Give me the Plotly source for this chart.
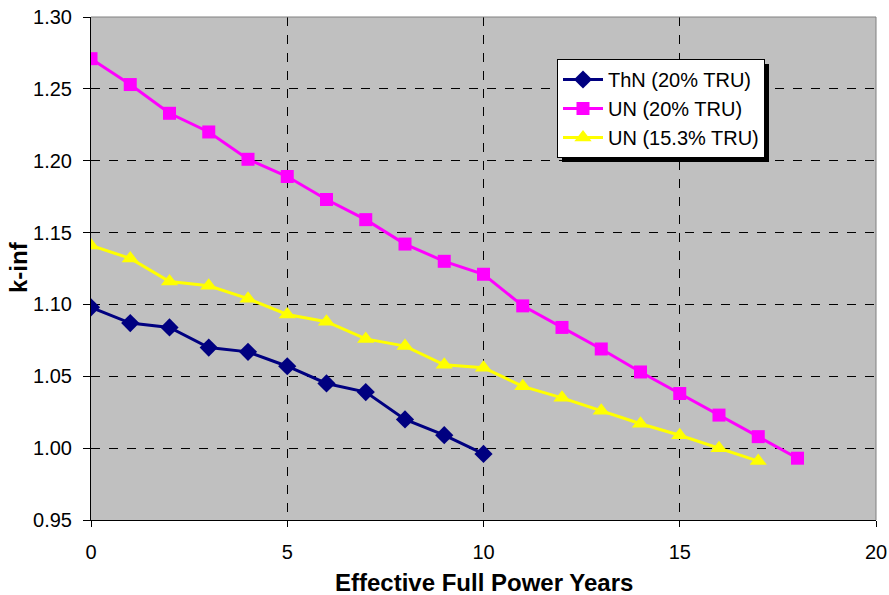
import plotly.graph_objects as go

years_thn = list(range(0, 11))
kinf_thn = [1.098, 1.087, 1.084, 1.070, 1.067, 1.057, 1.045, 1.039, 1.020, 1.009, 0.996]

years_un20 = list(range(0, 19))
kinf_un20 = [1.271, 1.253, 1.233, 1.220, 1.201, 1.189, 1.173, 1.159, 1.142, 1.130, 1.121,
             1.099, 1.084, 1.069, 1.053, 1.038, 1.023, 1.008, 0.993]

years_un153 = list(range(0, 18))
kinf_un153 = [1.141, 1.132, 1.116, 1.113, 1.104, 1.093, 1.088, 1.076, 1.071, 1.058, 1.056,
              1.043, 1.035, 1.026, 1.017, 1.009, 1.000, 0.991]

names = ["ThN (20% TRU)", "UN (20% TRU)", "UN (15.3% TRU)"]
x_title = "Effective Full Power Years"
y_title = "k-inf"

FONT = "Liberation Sans, Arial, sans-serif"

L, R, T, B = 91, 13, 17, 75
PW, PH = 889 - L - R, 595 - T - B

fig = go.Figure()
fig.add_trace(go.Scatter(x=years_thn, y=kinf_thn, name=names[0], mode="lines+markers",
                         line=dict(color="#000080", width=3),
                         marker=dict(symbol="diamond", size=14, color="#000080")))
fig.add_trace(go.Scatter(x=years_un20, y=kinf_un20, name=names[1], mode="lines+markers",
                         line=dict(color="#FF00FF", width=3),
                         marker=dict(symbol="square", size=13, color="#FF00FF")))
fig.add_trace(go.Scatter(x=years_un153, y=kinf_un153, name=names[2], mode="lines+markers",
                         line=dict(color="#FFFF00", width=3),
                         marker=dict(symbol="triangle-up", size=15, color="#FFFF00")))

# gray border on top and right of plot area
fig.add_shape(type="line", xref="paper", yref="paper", x0=0, x1=1, y0=1, y1=1,
              line=dict(color="#808080", width=1))
fig.add_shape(type="line", xref="paper", yref="paper", x0=1, x1=1, y0=0, y1=1,
              line=dict(color="#808080", width=1))

fig.add_annotation(text="<b>" + x_title + "</b>", xref="paper", yref="paper",
                   x=0.5, y=-(582 - 520) / PH, xanchor="center", yanchor="middle",
                   showarrow=False, font=dict(family=FONT, size=24, color="black"))
fig.add_annotation(text="<b>" + y_title + "</b>", xref="paper", yref="paper",
                   x=-(L - 18.5) / PW, y=(520 - 267.5) / PH, xanchor="center", yanchor="middle",
                   textangle=-90, showarrow=False, font=dict(family=FONT, size=24, color="black"))

fig.update_layout(
    width=889, height=595,
    margin=dict(l=L, r=R, t=T, b=B, autoexpand=False),
    paper_bgcolor="white", plot_bgcolor="#C0C0C0",
    font=dict(family=FONT, size=20, color="black"),
    showlegend=True,
    legend=dict(x=(557 - L) / PW, y=(520 - 108.5) / PH, xanchor="left", yanchor="middle",
                bgcolor="white", bordercolor="black", borderwidth=1,
                font=dict(family=FONT, size=20), tracegroupgap=0, itemwidth=40),
    xaxis=dict(range=[0, 20], dtick=5, tick0=0, showgrid=True, gridcolor="black",
               griddash="dash", gridwidth=1, zeroline=False, automargin=False,
               showline=True, linecolor="black", linewidth=1, mirror=False,
               ticks="outside", ticklen=6, tickcolor="black", ticklabelstandoff=8),
    yaxis=dict(range=[0.95, 1.30], dtick=0.05, tick0=0.95, tickformat=".2f", showgrid=True,
               gridcolor="black", griddash="dash", gridwidth=1, zeroline=False, automargin=False,
               showline=True, linecolor="black", linewidth=1,
               ticks="outside", ticklen=7, tickcolor="black", ticklabelstandoff=7),
)

# remove page margin and draw a drop shadow behind the legend box
post = """
document.body.style.margin = '0';
var gd = document.querySelector('.plotly-graph-div');
function addShadow() {
  var bg = gd.querySelector('.legend rect.bg');
  if (!bg) return;
  var old = gd.querySelector('.legend .shadowrect');
  if (old) old.remove();
  var s = bg.cloneNode(false);
  s.setAttribute('class', 'shadowrect');
  s.setAttribute('x', (parseFloat(bg.getAttribute('x') || 0) + 4));
  s.setAttribute('y', (parseFloat(bg.getAttribute('y') || 0) + 4));
  s.style.fill = 'black';
  s.style.stroke = 'none';
  bg.parentNode.insertBefore(s, bg);
}
addShadow();
gd.on('plotly_afterplot', addShadow);
"""

fig.write_html("out.html", post_script=post, config={"displayModeBar": False})
